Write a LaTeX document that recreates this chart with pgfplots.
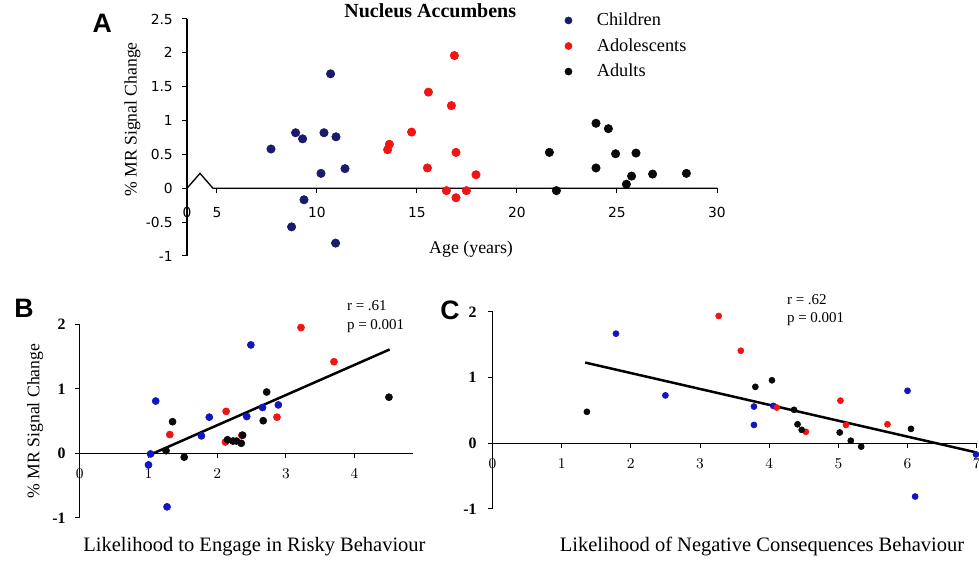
\documentclass[border=0pt]{standalone}
\usepackage{fontspec}
\setmainfont{Liberation Serif}
\newfontfamily\dejavu{DejaVu Sans}
\newfontfamily\arialf{Liberation Sans}
\usepackage{pgfplots}
\pgfplotsset{compat=1.18}

\definecolor{navyA}{HTML}{1B1B6B}
\definecolor{blueB}{HTML}{1414C4}
\definecolor{redP}{HTML}{F01414}
\definecolor{blackP}{HTML}{0A0A0A}

% common look of the three panels
\pgfplotsset{
  panel/.style={
    scale only axis, anchor=south west, clip=false,
    axis y line=left, axis x line=middle,
    axis line style={-, line width=0.8pt},
    tick style={black, line width=0.6pt},
    tick align=outside, major tick length=3pt,
    hide obscured x ticks=false, hide obscured y ticks=false,
    xlabel style={anchor=center, font=\fontsize{12.3}{14}\selectfont},
    ylabel style={anchor=center, rotate=0, font=\fontsize{10.6}{12}\selectfont},
  },
  dots/.style={only marks, mark=*, mark size=#1},
}

\begin{document}
\begin{tikzpicture}
\useasboundingbox (0,0) rectangle (587.4pt,336.6pt);

% ---------------- A ----------------
\begin{axis}[panel,
  at={(112.2pt,183pt)}, width=318pt, height=142.2pt,
  xmin=3.5, xmax=30, ymin=-1, ymax=2.5,
  x axis line style={draw=none},
  xtick={3.5,5,10,15,20,25,30}, xticklabels={0,5,10,15,20,25,30},
  ytick={-1,-0.5,0,0.5,1,1.5,2,2.5},
  yticklabels={-1,-0.5,0,0.5,1,1.5,2,2.5},
  ticklabel style={font=\dejavu\fontsize{8.3}{9}\selectfont},
  xticklabel style={yshift=-5pt},
  yticklabel style={xshift=-2pt},
  title={Nucleus Accumbens},
  title style={at={(axis description cs:0.459,0.9916)}, anchor=center,
    font=\bfseries\fontsize{12}{14}\selectfont},
  xlabel={Age (years)},
  xlabel style={at={(axis description cs:0.536,0.03)}, font=\fontsize{10.7}{12}\selectfont},
  ylabel={\% MR Signal Change},
  ylabel style={at={(axis description cs:-0.1028,0.576)}},
  legend style={at={(axis description cs:0.694,0.886)}, anchor=west,
    draw=none, fill=none, inner sep=0pt, row sep=2.2pt,
    font=\fontsize{11}{13}\selectfont, cells={anchor=west}},
  legend image code/.code={\path[draw=none,fill=none] (0pt,-1pt) rectangle (23pt,1pt);
    \draw[#1,mark size=2.1pt] plot coordinates {(8pt,0pt)};},
]
\addplot[dots=2.5pt, navyA] coordinates {
 (7.7,0.58) (8.93,0.82) (9.28,0.73) (10.35,0.82) (10.95,0.76) (10.68,1.69)
 (10.2,0.22) (11.4,0.29) (9.35,-0.17) (8.73,-0.57) (10.93,-0.81)
};
\addlegendentry{Children}
\addplot[dots=2.5pt, redP] coordinates {
 (16.87,1.96) (15.57,1.42) (16.72,1.22) (14.73,0.83) (13.62,0.65) (13.53,0.57)
 (16.95,0.53) (15.52,0.30) (17.95,0.20) (16.47,-0.035) (17.47,-0.035) (16.95,-0.14)
};
\addlegendentry{Adolescents}
\addplot[dots=2.5pt, blackP] coordinates {
 (23.95,0.96) (24.57,0.88) (21.62,0.53) (24.93,0.51) (25.95,0.52) (23.95,0.30)
 (25.73,0.18) (26.78,0.21) (28.47,0.22) (25.47,0.06) (21.97,-0.035)
};
\addlegendentry{Adults}
% broken x axis
\draw[line width=0.8pt] (axis cs:3.5,0) -- (axis cs:4.15,0.22) -- (axis cs:4.8,0) -- (axis cs:30,0);
\node[font=\arialf\bfseries\fontsize{16}{18}\selectfont] at (axis description cs:-0.160,0.983) {A};
\end{axis}

% ---------------- B ----------------
\begin{axis}[panel,
  at={(47.88pt,25.92pt)}, width=199.92pt, height=116.1pt,
  xmin=0, xmax=4.85, ymin=-1, ymax=2,
  xtick={0,1,2,3,4}, ytick={-1,0,1,2}, yticklabels={-1,0,1,2},
  ticklabel style={font=\bfseries\fontsize{9.5}{10}\selectfont},
  xticklabel style={yshift=-3pt},
  yticklabel style={xshift=-2pt},
  xlabel={Likelihood to Engage in Risky Behaviour},
  xlabel style={at={(axis description cs:0.524,-0.149)}},
  ylabel={\% MR Signal Change},
  ylabel style={at={(axis description cs:-0.134,0.50)}},
]
\addplot[dots=2.1pt, blueB] coordinates {
 (1.105,0.81) (1.885,0.56) (1.77,0.27) (1.0,-0.18) (1.27,-0.83) (1.03,-0.01)
 (2.43,0.57) (2.49,1.68) (2.66,0.71) (2.89,0.75)
};
\addplot[dots=2.1pt, redP] coordinates {
 (2.13,0.65) (1.31,0.29) (2.12,0.175) (2.36,0.28) (3.22,1.95) (3.70,1.42) (2.87,0.56)
};
\addplot[dots=2.1pt, blackP] coordinates {
 (1.35,0.49) (1.255,0.04) (1.52,-0.06) (2.15,0.21) (2.23,0.19) (2.28,0.19)
 (2.35,0.155) (2.37,0.28) (2.72,0.95) (2.67,0.505) (4.50,0.87)
};
\addplot[black, line width=1.5pt, no marks] coordinates {(1.05,-0.01) (4.51,1.61)};
\node[anchor=west, font=\fontsize{9}{10}\selectfont, inner sep=0pt] at (axis description cs:0.801,1.0946) {r = .61};
\node[anchor=west, font=\fontsize{9}{10}\selectfont, inner sep=0pt] at (axis description cs:0.801,0.991) {p = 0.001};
\node[font=\arialf\bfseries\fontsize{16}{18}\selectfont] at (axis description cs:-0.1675,1.084) {B};
\end{axis}

% ---------------- C ----------------
\begin{axis}[panel,
  at={(295.5pt,31.2pt)}, width=290.52pt, height=118.2pt,
  xmin=0, xmax=7, ymin=-1, ymax=2,
  xtick={0,1,...,7}, ytick={-1,0,1,2}, yticklabels={-1,0,1,2},
  ticklabel style={font=\bfseries\fontsize{9.5}{10}\selectfont},
  xticklabel style={yshift=-3pt},
  yticklabel style={xshift=-3pt},
  xlabel={Likelihood of Negative Consequences Behaviour},
  xlabel style={at={(axis description cs:0.5566,-0.191)}},
]
\addplot[dots=1.8pt, blueB] coordinates {
 (1.785,1.67) (2.50,0.73) (3.78,0.56) (3.78,0.28) (4.06,0.57) (6.00,0.80)
 (6.11,-0.81) (6.99,-0.17)
};
\addplot[dots=1.8pt, redP] coordinates {
 (3.27,1.94) (3.59,1.41) (4.11,0.545) (4.53,0.175) (5.03,0.65) (5.11,0.28) (5.71,0.29)
};
\addplot[dots=1.8pt, blackP] coordinates {
 (1.365,0.48) (3.80,0.86) (4.04,0.96) (4.36,0.51) (4.41,0.29) (4.47,0.205)
 (5.02,0.165) (5.18,0.04) (5.33,-0.05) (6.05,0.22)
};
\addplot[black, line width=1.5pt, no marks] coordinates {(1.34,1.23) (7.0,-0.14)};
\node[anchor=west, font=\fontsize{9}{10}\selectfont, inner sep=0pt] at (axis description cs:0.6076,1.061) {r = .62};
\node[anchor=west, font=\fontsize{9}{10}\selectfont, inner sep=0pt] at (axis description cs:0.6076,0.963) {p = 0.001};
\node[font=\arialf\bfseries\fontsize{16}{18}\selectfont] at (axis description cs:-0.0878,1.010) {C};
\end{axis}
\end{tikzpicture}
\end{document}
